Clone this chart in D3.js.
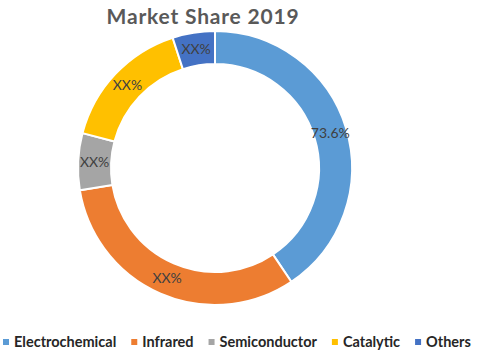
<!DOCTYPE html>
<html>
<head>
<meta charset="utf-8">
<script src="https://cdn.jsdelivr.net/npm/d3@7"></script>
<style>
  body { margin: 0; background: #fff; }
  text { font-family: Lato, "Open Sans", sans-serif; }
</style>
</head>
<body>
<svg id="donut" width="477" height="352"></svg>
<script>
const categories = ["Electrochemical", "Infrared", "Semiconductor", "Catalytic", "Others"];
const shares = [40.6, 31.8, 6.7, 15.9, 5.0];
const labels = ["73.6%", "XX%", "XX%", "XX%", "XX%"];
const colors = ["#5B9BD5", "#ED7D31", "#A5A5A5", "#FFC000", "#4472C4"];

const svg = d3.select("#donut");
const cx = 215, cy = 168;
const outer = 137, inner = 104;

const data = categories.map((name, i) => ({ name, value: shares[i], label: labels[i] }));

// title
svg.append("text")
    .attr("x", 203)
    .attr("y", 24)
    .attr("text-anchor", "middle")
    .attr("font-size", 21)
    .attr("font-weight", "bold")
    .attr("letter-spacing", 0.8)
    .attr("fill", "#595959")
    .text("Market Share 2019");

const pie = d3.pie().value(d => d.value).sort(null);
const arc = d3.arc().innerRadius(inner).outerRadius(outer);
const color = d3.scaleOrdinal().domain(categories).range(colors);

const chart = svg.append("g")
    .attr("transform", `translate(${cx}, ${cy})`);

const arcs = pie(data);

chart.selectAll("path")
    .data(arcs)
    .join("path")
    .attr("d", arc)
    .attr("fill", d => color(d.data.name))
    .attr("stroke", "#fff")
    .attr("stroke-width", 2);

chart.selectAll("text.lbl")
    .data(arcs)
    .join("text")
    .attr("class", "lbl")
    .attr("transform", d => `translate(${arc.centroid(d)})`)
    .attr("text-anchor", "middle")
    .attr("dy", "0.35em")
    .attr("font-size", 14)
    .attr("fill", "#404040")
    .text(d => d.data.label);

// legend, laid out left to right
const legend = svg.append("g").attr("transform", "translate(3, 342)");
let lx = 0;
categories.forEach((name, i) => {
    const item = legend.append("g").attr("transform", `translate(${lx}, 0)`);
    item.append("rect")
        .attr("x", 0).attr("y", -3)
        .attr("width", 6).attr("height", 6)
        .attr("fill", color(name));
    const t = item.append("text")
        .attr("x", 11)
        .attr("dy", "0.35em")
        .attr("font-size", 14.5)
        .attr("font-weight", "bold")
        .attr("fill", "#262626")
        .text(name);
    lx += 11 + t.node().getComputedTextLength() + 15;
});
</script>
</body>
</html>
